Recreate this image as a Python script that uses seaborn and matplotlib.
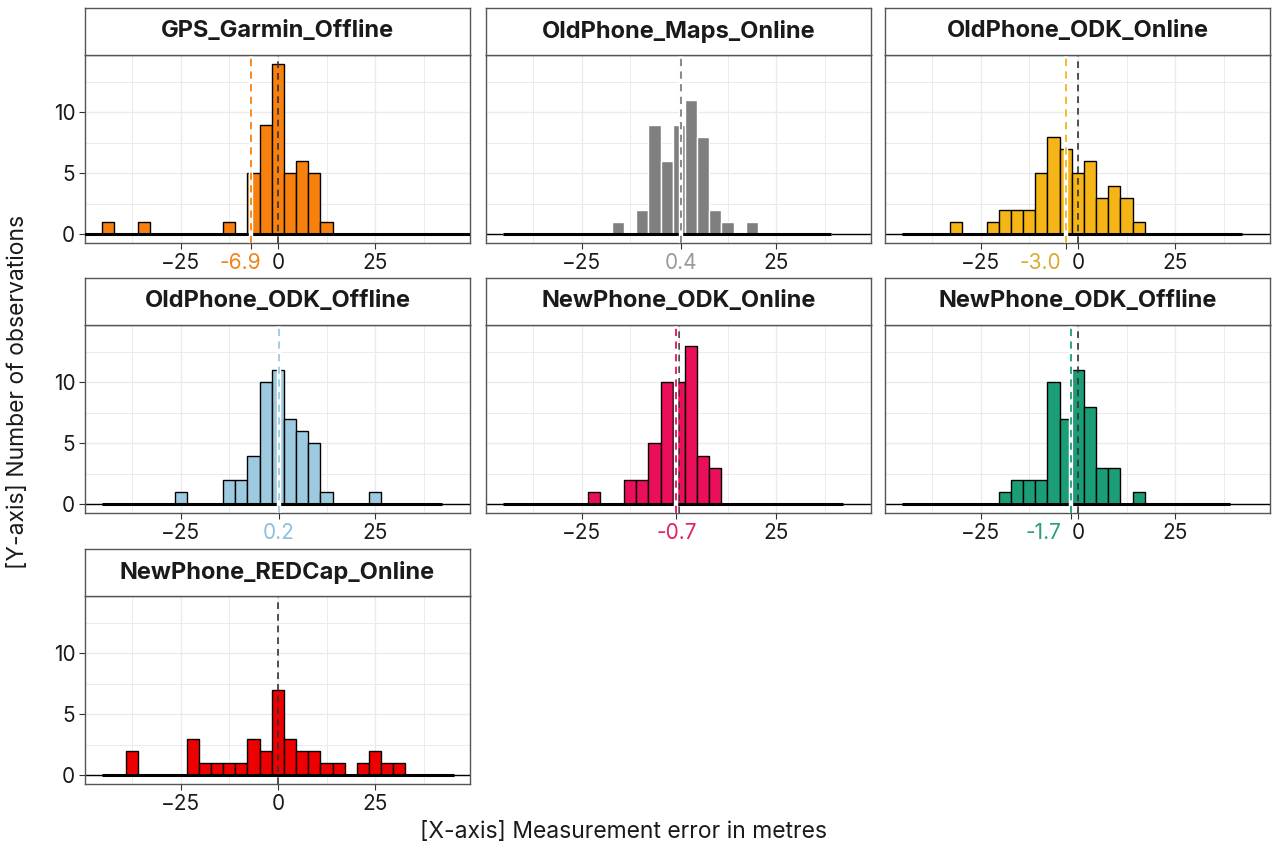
import numpy as np
import pandas as pd
import matplotlib
matplotlib.use("Agg")
import matplotlib.pyplot as plt
import matplotlib.transforms as mtransforms
import seaborn as sns

# Facet names, fill colours and the mean shown as a coloured tick/line
panels = ["GPS_Garmin_Offline", "OldPhone_Maps_Online", "OldPhone_ODK_Online",
          "OldPhone_ODK_Offline", "NewPhone_ODK_Online", "NewPhone_ODK_Offline",
          "NewPhone_REDCap_Online"]
fills = ["#F8800F", "#7F7F7F", "#F6B516", "#9ECAE1", "#EB0F5B", "#1B9E77", "#EE0000"]
label_cols = ["#F0831A", "#9A9A9A", "#D9AA2E", "#8CC0DE", "#E0206A", "#2A9E7E", "#EE0000"]
edge_cols = ["black", "white", "black", "black", "black", "black", "black"]
means = [-6.9, 0.4, -3.0, 0.2, -0.7, -1.7, None]

# Histogram counts (shared bin grid)
bin_width = 3.12
bin_origin = -45.3
first_bin = [-3, 0, 0, 0, 0, 0, 0]
garmin = [0, 0, 0, 1, 0, 0, 1, 0, 0, 0, 0, 0, 0, 1, 0, 5, 9, 14, 5, 6, 5, 1] + [0] * 13
maps_online = [0] * 9 + [1, 0, 2, 9, 6, 9, 11, 8, 2, 1, 0, 1] + [0] * 6
old_odk_online = [0, 0, 0, 0, 1, 0, 0, 1, 2, 2, 2, 5, 8, 7, 5, 6, 3, 4, 3, 1] + [0] * 8
old_odk_offline = [0, 0, 0, 0, 0, 0, 1, 0, 0, 0, 2, 2, 4, 10, 11, 7, 6, 5, 1, 0, 0, 0, 1] + [0] * 5
new_odk_online = [0] * 7 + [1, 0, 0, 2, 2, 5, 10, 10, 13, 4, 3] + [0] * 10
new_odk_offline = [0] * 8 + [1, 2, 2, 2, 10, 7, 11, 8, 3, 3, 0, 1] + [0] * 7
redcap = [0, 0, 2, 0, 0, 0, 0, 3, 1, 1, 1, 1, 3, 2, 7, 3, 2, 2, 1, 1, 0, 1, 2, 1, 1] + [0] * 4
all_counts = [garmin, maps_online, old_odk_online, old_odk_offline,
              new_odk_online, new_odk_offline, redcap]

sns.set_style("white")
plt.rcParams['font.family'] = ['Inter', 'DejaVu Sans']
txt_col = "#1A1A1A"
grid_col = "#EBEBEB"
border_col = "#555555"

W, H = 1280, 850
fig = plt.figure(figsize=(12.8, 8.5), dpi=100)

col_left = [85, 486, 885]
row_top = [55, 325, 596]
panel_w, panel_h, strip_h = 385, 188, 47
tick_len, tick_pad = 4, 3


def rect(l, t, w, h):
    return [l / W, 1 - (t + h) / H, w / W, h / H]


for i, name in enumerate(panels):
    r, c = divmod(i, 3)
    ax = fig.add_axes(rect(col_left[c], row_top[r], panel_w, panel_h))

    # grid
    for g in np.arange(-37.5, 40, 12.5):
        ax.axvline(g, color=grid_col, lw=1.0 if g % 25 == 0 else 0.7, zorder=0)
    for g in np.arange(0, 15, 2.5):
        ax.axhline(g, color=grid_col, lw=1.0 if g % 5 == 0 else 0.7, zorder=0)

    counts = all_counts[i]
    edges = bin_origin + bin_width * np.arange(first_bin[i], first_bin[i] + len(counts) + 1)
    centers = (edges[:-1] + edges[1:]) / 2
    hist_df = pd.DataFrame({"error": centers, "n": np.array(counts, dtype=float)})
    sns.histplot(data=hist_df, x="error", weights="n", bins=list(edges), ax=ax,
                 color=fills[i], edgecolor=edge_cols[i], linewidth=1.0, alpha=1,
                 zorder=2)
    ax.axhline(0, color="black", lw=1.0, zorder=1.5)
    ax.plot([edges[0], edges[-1]], [0, 0], color="black", lw=2.2, zorder=3,
            solid_capstyle="butt")

    # zero reference and mean line (a mean right on top of zero hides it)
    m = means[i]
    if m is None or abs(m) >= 0.5:
        ax.axvline(0, color="#333333", lw=1.2, dashes=(4, 3), zorder=4)
    if m is not None:
        ax.axvline(m, color="white", lw=3.2, zorder=5)
        ax.axvline(m, color=fills[i], lw=1.3, dashes=(4, 3), zorder=6)

    ax.set_xlim(-49.6, 49.3)
    ax.set_ylim(-0.7, 14.7)
    ax.set_xlabel("")
    ax.set_ylabel("")

    ticks = [-25, 0, 25]
    labels = ["\u221225", "0", "25"]
    mean_pos = None
    if m is not None:
        if abs(m) < 1:
            ticks[1] = m
            labels[1] = f"{m:.1f}"
            mean_pos = 1
        else:
            # mean label sits just left of the "0" label, drawn as separate text
            ticks.insert(1, m)
            labels.insert(1, "")
            off = mtransforms.ScaledTranslation(-17 / 100, -(tick_len + tick_pad) / 72,
                                                fig.dpi_scale_trans)
            trans = mtransforms.blended_transform_factory(ax.transData, ax.transAxes) + off
            ax.text(0, 0, f"{m:.1f}", transform=trans, ha="right", va="top",
                    fontsize=15, color=label_cols[i])
    ax.set_xticks(ticks)
    ax.set_xticklabels(labels)
    for j, tl in enumerate(ax.get_xticklabels()):
        tl.set_color(label_cols[i] if j == mean_pos else txt_col)
    ax.set_yticks([0, 5, 10])
    ax.tick_params(axis="both", labelsize=15, length=tick_len, width=0.8,
                   color="#333333", pad=tick_pad, bottom=True)
    if c != 0:
        ax.tick_params(axis="y", left=False, labelleft=False)
    else:
        ax.tick_params(axis="y", left=True, labelcolor=txt_col)

    for s in ax.spines.values():
        s.set_visible(True)
        s.set_color(border_col)
        s.set_linewidth(1.0)

    # facet strip
    sax = fig.add_axes(rect(col_left[c], row_top[r] - strip_h, panel_w, strip_h))
    sax.set_facecolor("white")
    sax.set_xticks([])
    sax.set_yticks([])
    for s in sax.spines.values():
        s.set_visible(True)
        s.set_color(border_col)
        s.set_linewidth(1.0)
    sax.text(0.5, 0.5, name, ha="center", va="center", fontsize=17,
             fontweight="bold", color=txt_col, transform=sax.transAxes)

fig.text(623 / W, 1 - 832 / H, "[X-axis] Measurement error in metres",
         ha="center", va="center", fontsize=16.5, color=txt_col)
fig.text(18 / W, 1 - 392 / H, "[Y-axis] Number of observations",
         ha="center", va="center", rotation=90, fontsize=16.5, color=txt_col)

fig.savefig("out.png", dpi=100, facecolor="white")
